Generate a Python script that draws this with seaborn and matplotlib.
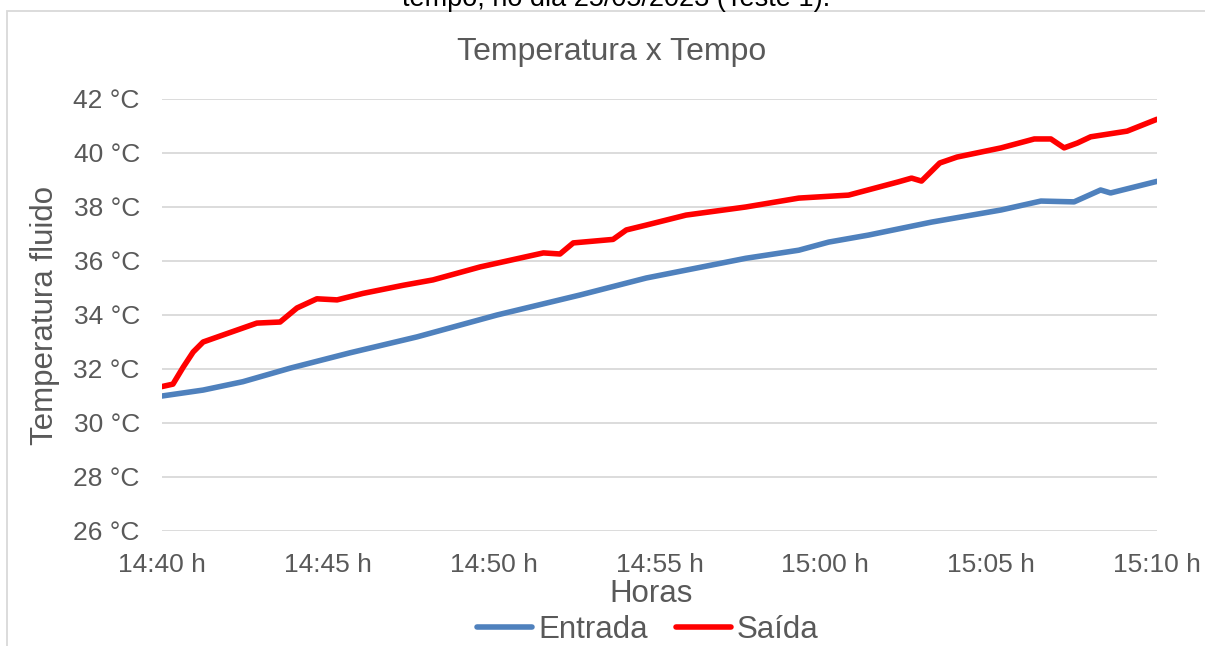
import numpy as np
import pandas as pd
import matplotlib
matplotlib.use("Agg")
import matplotlib.pyplot as plt
from matplotlib.patches import Rectangle
from matplotlib.lines import Line2D
import seaborn as sns

# ---- data (minutes after 14:40) ----
entrada_min = [0, 1.24, 2.44, 3.86, 5.67, 7.69, 10.1, 12.6, 14.6, 17.6, 19.2, 20.1,
               21.3, 23.2, 25.3, 26.5, 27.5, 28.3, 28.6, 30]
entrada_temp = [31.0, 31.22, 31.53, 32.03, 32.6, 33.19, 34.0, 34.74, 35.37, 36.1, 36.4, 36.7,
                36.96, 37.44, 37.89, 38.22, 38.19, 38.63, 38.52, 38.95]

saida_min = [0, 0.33, 0.64, 0.94, 1.24, 1.84, 2.86, 3.56, 4.07, 4.67, 5.28, 6.06, 7.27,
             8.17, 9.59, 11.5, 12.0, 12.4, 13.6, 14.0, 14.6, 15.8, 17.6, 19.2, 20.7,
             22.2, 22.6, 22.9, 23.45, 23.97, 25.3, 26.3, 26.8, 27.2, 27.6, 28.0, 29.1, 30]
saida_temp = [31.35, 31.44, 32.07, 32.63, 33.0, 33.26, 33.7, 33.74, 34.26, 34.6, 34.56, 34.8,
              35.1, 35.3, 35.78, 36.3, 36.26, 36.67, 36.8, 37.15, 37.33, 37.7, 38.0, 38.33,
              38.44, 38.93, 39.07, 38.96, 39.63, 39.85, 40.19, 40.52, 40.52, 40.19, 40.37,
              40.6, 40.81, 41.25]

series_names = ["Entrada", "Saída"]
series_colors = ["#4F81BD", "#FF0000"]

x_ticks = [0, 5, 10, 15, 20, 25, 30]
x_tick_labels = ["14:40 h", "14:45 h", "14:50 h", "14:55 h", "15:00 h", "15:05 h", "15:10 h"]
y_ticks = [26, 28, 30, 32, 34, 36, 38, 40, 42]
y_tick_labels = [f"{v} °C" for v in y_ticks]

title = "Temperatura x Tempo"
x_label = "Horas"
y_label = "Temperatura fluido"
caption = "tempo, no dia 25/05/2023 (Teste 1)."

df = pd.concat([
    pd.DataFrame({"min": entrada_min, "temp": entrada_temp, "serie": series_names[0]}),
    pd.DataFrame({"min": saida_min, "temp": saida_temp, "serie": series_names[1]}),
], ignore_index=True)

sns.set_theme(style="white")
plt.rcParams["font.family"] = ["Liberation Sans", "DejaVu Sans"]
text_color = "#595959"

fig = plt.figure(figsize=(12.05, 6.46), dpi=100)
ax = fig.add_axes([162 / 1205, 1 - 531 / 646, (1157 - 162) / 1205, (531 - 99) / 646])

# chart frame
fig.patches.append(Rectangle((7 / 1205, -0.1), 1.2, 1 - 11 / 646 + 0.1,
                             transform=fig.transFigure, fill=False,
                             edgecolor="#d9d9d9", linewidth=1.3, zorder=0))
fig.text(616 / 1205, 1 - 6 / 646, caption, ha="center", va="baseline",
         fontsize=19.5, color="black")

sns.lineplot(data=df, x="min", y="temp", hue="serie", palette=series_colors,
             hue_order=series_names, linewidth=4, ax=ax, legend=False,
             sort=False, estimator=None, solid_capstyle="round")

ax.set_xlim(0, 30)
ax.set_ylim(26, 42)
ax.set_xticks(x_ticks)
ax.set_xticklabels(x_tick_labels)
ax.set_yticks(y_ticks)
ax.set_yticklabels(y_tick_labels)
ax.tick_params(axis="both", length=0, labelsize=19, colors=text_color)
ax.tick_params(axis="y", pad=16)
ax.tick_params(axis="x", pad=16)
ax.grid(axis="y", color="#d9d9d9", linewidth=1.3)
ax.grid(axis="x", visible=False)
for s in ax.spines.values():
    s.set_visible(False)
ax.set_axisbelow(True)

ax.set_xlabel("")
ax.set_ylabel("")
fig.text(612 / 1205, 1 - 52 / 646, title, ha="center", va="center",
         fontsize=23, color=text_color)
fig.text(651 / 1205, 1 - 594 / 646, x_label, ha="center", va="center",
         fontsize=22.5, color=text_color)
fig.text(45 / 1205, 1 - 315 / 646, y_label, ha="center", va="center",
         rotation=90, fontsize=22.5, color=text_color)

handles = [Line2D([0], [0], color=c, linewidth=4, solid_capstyle="round") for c in series_colors]
fig.legend(handles, series_names, loc="center", bbox_to_anchor=(648 / 1205, 1 - 630 / 646),
           ncol=2, frameon=False, fontsize=22.5, labelcolor=text_color,
           handlelength=1.75, handletextpad=0.2, columnspacing=0.9, borderpad=0,
           borderaxespad=0)

fig.savefig("out.png", dpi=100)
